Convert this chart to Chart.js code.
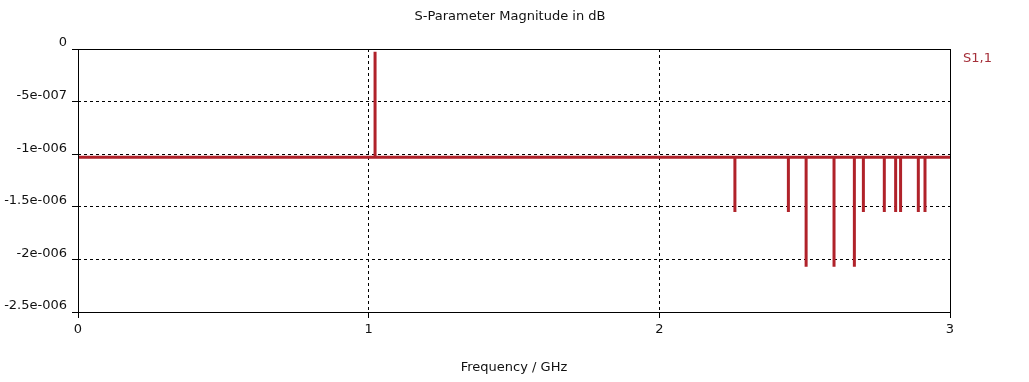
<!DOCTYPE html>
<html>
<head>
<meta charset="utf-8">
<title>S-Parameter Magnitude in dB</title>
<script src="https://cdn.jsdelivr.net/npm/chart.js@4.4.1/dist/chart.umd.min.js"></script>
<style>
  html, body { margin: 0; padding: 0; background: #fff; }
  canvas { display: block; }
</style>
</head>
<body>
<canvas id="sparamChart" width="1029" height="382"></canvas>
<script>
// values (frequency in GHz, magnitude in dB)
const chartTitle = "S-Parameter Magnitude in dB";
const seriesName = "S1,1";
const freqGHz = [
    0,
    1.022, 1.022, 1.022,
    2.260, 2.260, 2.260,
    2.444, 2.444, 2.444,
    2.505, 2.505, 2.505,
    2.601, 2.601, 2.601,
    2.671, 2.671, 2.671,
    2.702, 2.702, 2.702,
    2.774, 2.774, 2.774,
    2.813, 2.813, 2.813,
    2.830, 2.830, 2.830,
    2.891, 2.891, 2.891,
    2.914, 2.914, 2.914,
    3
];
const s11dB = [
    -1.03e-6,
    -1.03e-6, -2.5e-8, -1.03e-6,
    -1.03e-6, -1.55e-6, -1.03e-6,
    -1.03e-6, -1.55e-6, -1.03e-6,
    -1.03e-6, -2.07e-6, -1.03e-6,
    -1.03e-6, -2.07e-6, -1.03e-6,
    -1.03e-6, -2.07e-6, -1.03e-6,
    -1.03e-6, -1.55e-6, -1.03e-6,
    -1.03e-6, -1.55e-6, -1.03e-6,
    -1.03e-6, -1.55e-6, -1.03e-6,
    -1.03e-6, -1.55e-6, -1.03e-6,
    -1.03e-6, -1.55e-6, -1.03e-6,
    -1.03e-6, -1.55e-6, -1.03e-6,
    -1.03e-6
];
const xTickValues = [0, 1, 2, 3];
const xTickLabels = ["0", "1", "2", "3"];
const yTickValues = [0, -5e-7, -1e-6, -1.5e-6, -2e-6, -2.5e-6];
const yTickLabels = ["0", "-5e-007", "-1e-006", "-1.5e-006", "-2e-006", "-2.5e-006"];

const lineColor = "#b0222a";
const textColor = "#111";
const fontFamily = "'DejaVu Sans', sans-serif";

// frame round the plot, the title on top and the series name at the right
const framePlugin = {
    id: "frame",
    afterDatasetsDraw(chart) {
        const { ctx, chartArea } = chart;
        const l = Math.round(chartArea.left) + 0.5;
        const t = Math.round(chartArea.top) + 0.5;
        const r = Math.round(chartArea.right) + 0.5;
        const b = Math.round(chartArea.bottom) + 0.5;
        ctx.save();
        ctx.strokeStyle = "#000";
        ctx.lineWidth = 1;
        ctx.setLineDash([]);
        ctx.strokeRect(l, t, r - l, b - t);

        ctx.font = "13px " + fontFamily;
        ctx.textBaseline = "middle";
        ctx.fillStyle = textColor;
        ctx.textAlign = "center";
        ctx.fillText(chartTitle, (chartArea.left + chartArea.right) / 2 - 4, 17);

        ctx.fillStyle = "#a5303a";
        ctx.textAlign = "left";
        ctx.fillText(chart.data.datasets[0].label, chartArea.right + 13, chartArea.top + 10);
        ctx.restore();
    }
};

new Chart("sparamChart", {
    type: "line",
    data: {
        datasets: [{
            label: seriesName,
            data: freqGHz.map((f, i) => ({ x: f, y: s11dB[i] })),
            borderColor: lineColor,
            borderWidth: 3,
            borderJoinStyle: "bevel",
            pointRadius: 0,
            tension: 0,
            fill: false
        }]
    },
    options: {
        responsive: false,
        animation: false,
        layout: { padding: { left: 0, right: 79, top: 49, bottom: 0 } },
        plugins: {
            legend: { display: false },
            tooltip: { enabled: false },
            title: { display: false }
        },
        scales: {
            x: {
                type: "linear",
                min: 0,
                max: 3,
                afterBuildTicks: scale => {
                    scale.ticks = xTickValues.map(v => ({ value: v }));
                },
                afterFit: scale => { scale.height = 70; },
                ticks: {
                    color: textColor,
                    font: { family: fontFamily, size: 13 },
                    padding: 4,
                    maxRotation: 0,
                    callback: (value, index) => xTickLabels[index]
                },
                grid: {
                    color: "#000",
                    lineWidth: 1,
                    tickLength: 6,
                    tickColor: "#000",
                    tickBorderDash: []
                },
                border: { display: false, dash: [3, 3] },
                title: {
                    display: true,
                    text: "Frequency / GHz",
                    color: textColor,
                    font: { family: fontFamily, size: 13 },
                    padding: { top: 0, bottom: 7 }
                }
            },
            y: {
                type: "linear",
                min: -2.5e-6,
                max: 0,
                afterBuildTicks: scale => {
                    scale.ticks = yTickValues.map(v => ({ value: v }));
                },
                afterFit: scale => { scale.width = 78; },
                ticks: {
                    color: textColor,
                    font: { family: fontFamily, size: 13 },
                    padding: 5,
                    labelOffset: -6,
                    callback: (value, index) => yTickLabels[index]
                },
                grid: {
                    color: "#000",
                    lineWidth: 1,
                    tickLength: 6,
                    tickColor: "#000",
                    tickBorderDash: []
                },
                border: { display: false, dash: [3, 3] }
            }
        }
    },
    plugins: [framePlugin]
});
</script>
</body>
</html>
